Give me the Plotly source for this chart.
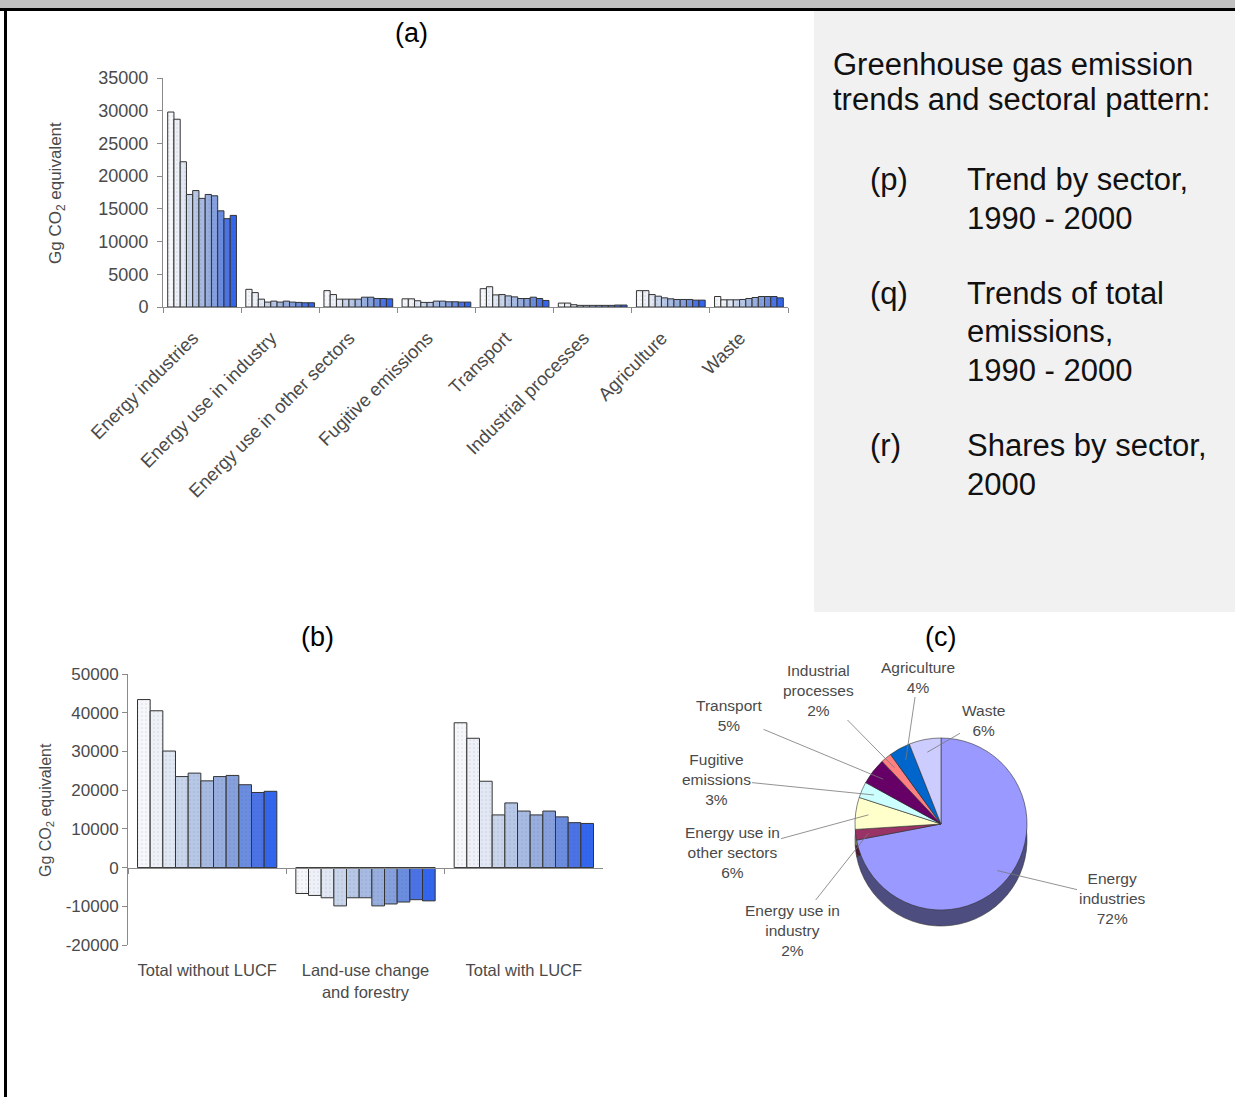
import math
import plotly.graph_objects as go

# ---------------- data ----------------
years = ["1990", "1991", "1992", "1993", "1994", "1995", "1996", "1997", "1998", "1999", "2000"]

sectors = ["Energy industries", "Energy use in industry", "Energy use in other sectors",
           "Fugitive emissions", "Transport", "Industrial processes", "Agriculture", "Waste"]

energy_industries = [29800, 28700, 22200, 17200, 17800, 16600, 17200, 17000, 14700, 13500, 14000]
energy_use_industry = [2700, 2200, 1200, 750, 900, 750, 900, 750, 700, 650, 650]
energy_use_other = [2500, 1900, 1200, 1200, 1200, 1200, 1500, 1500, 1300, 1300, 1250]
fugitive_emissions = [1250, 1250, 950, 700, 700, 900, 900, 800, 800, 750, 750]
transport = [2800, 3100, 1850, 1900, 1700, 1550, 1300, 1300, 1500, 1300, 1000]
industrial_processes = [600, 600, 350, 250, 250, 250, 250, 250, 250, 300, 300]
agriculture = [2500, 2500, 1900, 1650, 1400, 1250, 1150, 1150, 1150, 1050, 1050]
waste = [1600, 1100, 1100, 1100, 1150, 1300, 1450, 1600, 1600, 1600, 1400]

total_categories = ["Total without LUCF", "Land-use change<br>and forestry", "Total with LUCF"]
total_without_lucf = [43400, 40500, 30100, 23500, 24400, 22400, 23500, 23800, 21400, 19400, 19700]
land_use_change = [-6700, -7200, -7800, -9900, -7800, -7800, -9900, -9400, -8900, -8300, -8600]
total_with_lucf = [37400, 33400, 22300, 13600, 16700, 14600, 13600, 14600, 13100, 11600, 11400]

pie_sectors = ["Energy industries", "Energy use in industry", "Energy use in other sectors",
               "Fugitive emissions", "Transport", "Industrial processes", "Agriculture", "Waste"]
pie_display = ["Energy<br>industries", "Energy use in<br>industry", "Energy use in<br>other sectors",
               "Fugitive<br>emissions", "Transport", "Industrial<br>processes", "Agriculture", "Waste"]
shares_2000 = [72, 2, 6, 3, 5, 2, 4, 6]

a_yticks = [0, 5000, 10000, 15000, 20000, 25000, 30000, 35000]
b_yticks = [-20000, -10000, 0, 10000, 20000, 30000, 40000, 50000]
b_yticktext = ["-20000", "-10000", "0", "10000", "20000", "30000", "40000", "50000"]

# ---------------- styling ----------------
W, H = 1235, 1097
FONT = "Liberation Sans, Arial, sans-serif"
TXT = "#4a4a4a"
year_colors = ["#f6f7fb", "#eef1f8", "#e2e8f3", "#c9d5ea", "#b7c7e6", "#a6bae2",
               "#97aede", "#85a0dc", "#6b8ddf", "#4b73e6", "#3366ee"]
pie_colors = ["#9999ff", "#993366", "#ffffcc", "#ccffff", "#660066", "#ff8080", "#0066cc", "#ccccff"]
pie_side_colors = ["#4d4d80", "#4d1a33", "#80805f", "#5f8080", "#330033", "#804040", "#003366", "#66667f"]


def fx(x):
    return x / W


def fy(y):
    return 1 - y / H


fig = go.Figure()

bar_pattern = dict(shape=".", size=4, solidity=0.12, fgcolor="rgba(60,70,110,0.35)")

sector_series = [energy_industries, energy_use_industry, energy_use_other, fugitive_emissions,
                 transport, industrial_processes, agriculture, waste]
for i, yr in enumerate(years):
    fig.add_trace(go.Bar(
        x=sectors, y=[s[i] for s in sector_series], name=yr,
        marker=dict(color=year_colors[i], line=dict(color="#333333", width=1), pattern=bar_pattern),
        xaxis="x", yaxis="y", showlegend=False))

total_series = [total_without_lucf, land_use_change, total_with_lucf]
for i, yr in enumerate(years):
    fig.add_trace(go.Bar(
        x=total_categories, y=[s[i] for s in total_series], name=yr,
        marker=dict(color=year_colors[i], line=dict(color="#333333", width=1), pattern=bar_pattern),
        xaxis="x2", yaxis="y2", showlegend=False))

# pie (c) with a darker offset copy underneath to suggest depth
pcx, pcy, pr, depth = 941, 824, 86, 16
fig.add_trace(go.Pie(
    values=shares_2000, labels=pie_sectors, sort=False, direction="clockwise", rotation=0,
    marker=dict(colors=pie_side_colors, line=dict(color="#333333", width=0.6)),
    textinfo="none", hoverinfo="skip", showlegend=False,
    domain=dict(x=[fx(pcx - pr), fx(pcx + pr)], y=[fy(pcy + depth + pr), fy(pcy + depth - pr)])))
fig.add_trace(go.Pie(
    values=shares_2000, labels=pie_sectors, sort=False, direction="clockwise", rotation=0,
    marker=dict(colors=pie_colors, line=dict(color="#333333", width=0.6)),
    textinfo="none", showlegend=False,
    domain=dict(x=[fx(pcx - pr), fx(pcx + pr)], y=[fy(pcy + pr), fy(pcy - pr)])))

pie_label_pos = [(1112, 898), (792, 930), (732, 852), (716, 779), (729, 715), (818, 690), (918, 677), (983, 720)]
annotations = []
total_share = sum(shares_2000)
cum = 0
for name, s, (lx, ly) in zip(pie_display, shares_2000, pie_label_pos):
    mid = math.radians((cum + s / 2) / total_share * 360)
    cum += s
    tx = pcx + 0.85 * pr * math.sin(mid)
    ty = pcy - 0.85 * pr * math.cos(mid)
    annotations.append(dict(
        x=fx(tx), y=fy(ty), xref="paper", yref="paper", ax=lx - tx, ay=ly - ty,
        text=f"{name}<br>{s}%", showarrow=True, arrowhead=0, arrowwidth=0.8, arrowcolor="#777777",
        standoff=0, font=dict(family=FONT, size=15.5, color=TXT), align="center"))

# panel letters
for txt, x, y in [("(a)", 411, 33), ("(b)", 318, 637), ("(c)", 941, 637)]:
    annotations.append(dict(x=fx(x), y=fy(y), xref="paper", yref="paper", text=txt, showarrow=False,
                            font=dict(family=FONT, size=27, color="#000000"),
                            xanchor="center", yanchor="middle"))

# y axis titles
annotations.append(dict(x=fx(57), y=fy(193), xref="paper", yref="paper", text="Gg CO<sub>2</sub> equivalent",
                        textangle=-90, showarrow=False, font=dict(family=FONT, size=17, color=TXT),
                        xanchor="center", yanchor="middle"))
annotations.append(dict(x=fx(46), y=fy(810), xref="paper", yref="paper", text="Gg CO<sub>2</sub> equivalent",
                        textangle=-90, showarrow=False, font=dict(family=FONT, size=16, color=TXT),
                        xanchor="center", yanchor="middle"))

# right-hand text box
text_lines = [
    ("Greenhouse gas emission", 831, 65), ("trends and sectoral pattern:", 831, 100),
    ("(p)", 868, 180), ("Trend by sector,", 965, 180), ("1990 - 2000", 965, 218),
    ("(q)", 868, 293), ("Trends of total", 965, 293), ("emissions,", 965, 331), ("1990 - 2000", 965, 370),
    ("(r)", 868, 446), ("Shares by sector,", 965, 446), ("2000", 965, 484),
]
for txt, x, y in text_lines:
    annotations.append(dict(x=fx(x), y=fy(y), xref="paper", yref="paper", text=txt, showarrow=False,
                            font=dict(family=FONT, size=31, color="#111111"),
                            xanchor="left", yanchor="middle"))

shapes = [
    dict(type="rect", xref="paper", yref="paper", x0=fx(814), x1=1, y0=fy(612), y1=fy(11),
         fillcolor="#f1f1f1", line=dict(width=0), layer="below"),
    dict(type="rect", xref="paper", yref="paper", x0=0, x1=1, y0=fy(8), y1=1,
         fillcolor="#c0c0c0", line=dict(width=0), layer="below"),
    dict(type="line", xref="paper", yref="paper", x0=0, x1=1, y0=fy(9.5), y1=fy(9.5),
         line=dict(color="#000000", width=3)),
    dict(type="line", xref="paper", yref="paper", x0=fx(5.5), x1=fx(5.5), y0=0, y1=fy(8),
         line=dict(color="#000000", width=3)),
]

axis_common = dict(showgrid=False, zeroline=False, showline=True, linecolor="#8a8a8a", linewidth=1,
                   ticks="outside", ticklen=5, tickcolor="#8a8a8a", automargin=False)

b_ydom = [fy(945), fy(674)]
zero_pos = b_ydom[0] + (b_ydom[1] - b_ydom[0]) * (0 - b_yticks[0]) / (b_yticks[-1] - b_yticks[0])

fig.update_layout(
    width=W, height=H, margin=dict(l=0, r=0, t=0, b=0),
    paper_bgcolor="white", plot_bgcolor="rgba(0,0,0,0)",
    barmode="group", bargap=0.12, bargroupgap=0,
    font=dict(family=FONT, color=TXT),
    xaxis=dict(domain=[fx(163), fx(788)], anchor="y", type="category", tickson="boundaries",
               tickangle=-45, tickfont=dict(size=18.5, color=TXT), ticklabelstandoff=12,
               ticklabelshift=-9, **axis_common),
    yaxis=dict(domain=[fy(307), fy(78)], anchor="x", range=[0, 35000], tickvals=a_yticks,
               tickformat="d", tickfont=dict(size=18, color=TXT), ticklabelstandoff=5, **axis_common),
    xaxis2=dict(domain=[fx(128), fx(603)], anchor="free", position=zero_pos, type="category",
                tickson="boundaries", tickfont=dict(size=16.5, color=TXT), ticklabelstandoff=88,
                **axis_common),
    yaxis2=dict(domain=b_ydom, anchor="x2", range=[b_yticks[0], b_yticks[-1]], tickvals=b_yticks,
                ticktext=b_yticktext, tickfont=dict(size=17, color=TXT), **axis_common),
    annotations=annotations, shapes=shapes,
)

fig.write_html("out.html", config={"displayModeBar": False},
               post_script="document.body.style.margin='0';document.body.style.overflow='hidden';")
